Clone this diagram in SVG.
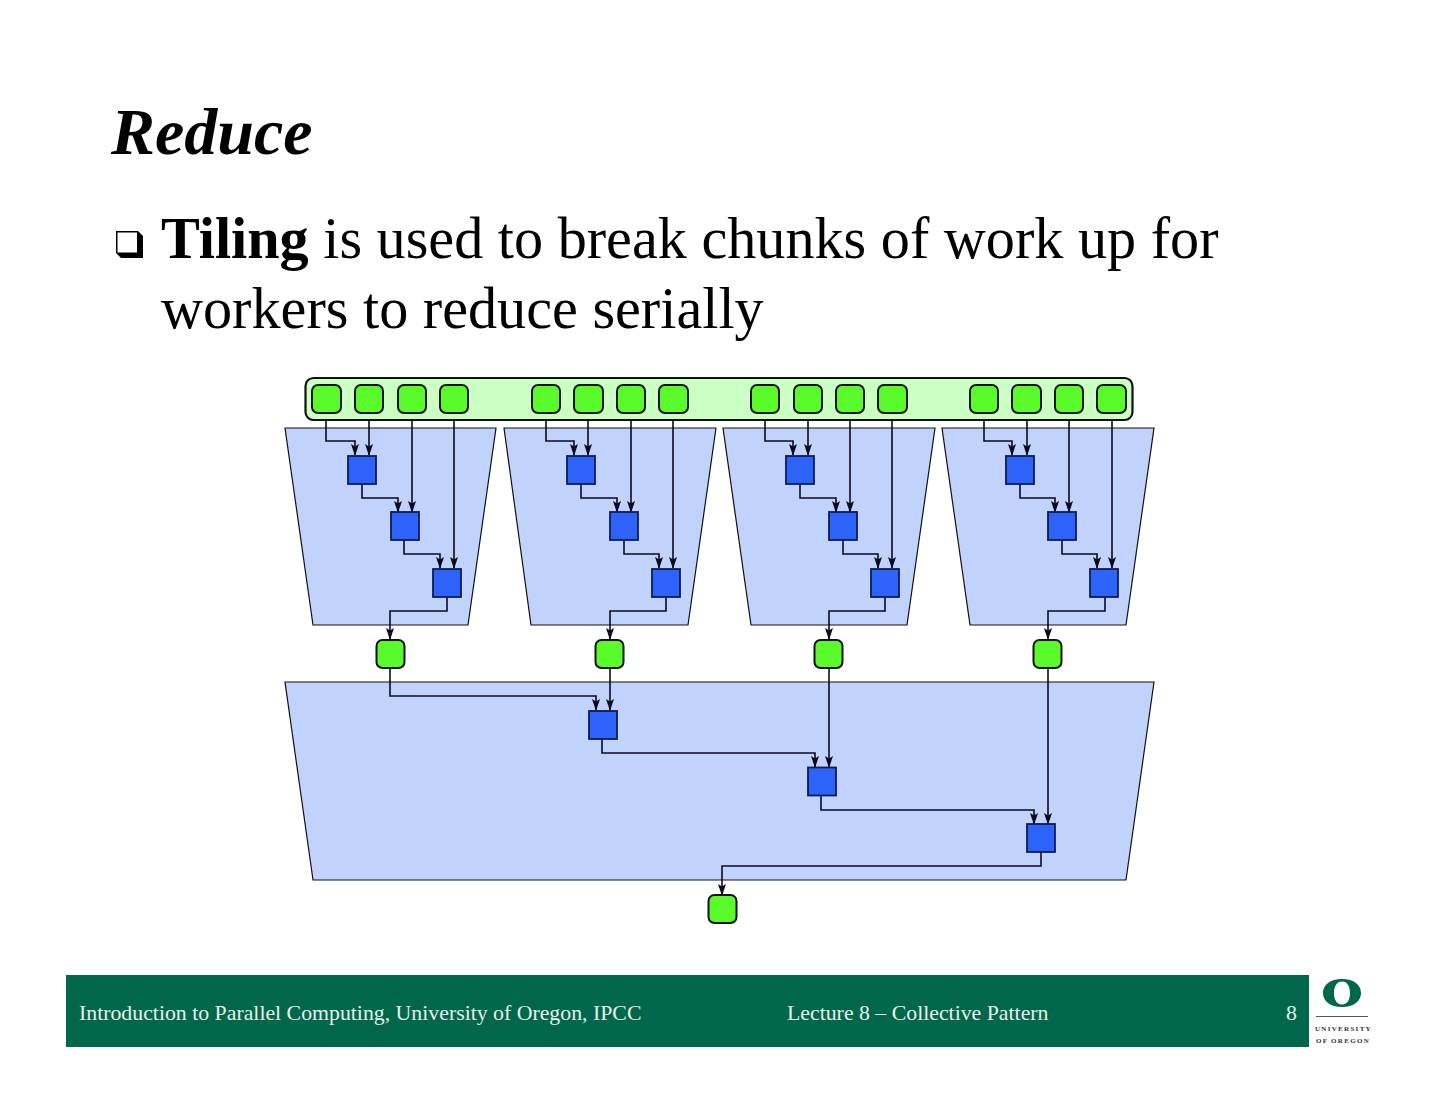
<svg xmlns="http://www.w3.org/2000/svg" width="1440" height="1113" viewBox="0 0 1440 1113">
<style>
text{font-family:"Liberation Serif","Times New Roman",serif;fill:#000}
.title{font-size:66px;font-weight:bold;font-style:italic}
.body{font-size:58.2px}
.foot{font-size:21.8px;fill:#e8f0ec}
.logo{font-size:7px;letter-spacing:1.3px;fill:#333;font-weight:bold}
.tile{fill:#c1d3fc;stroke:#111;stroke-width:1.2}
.band{fill:#ccffc4;stroke:#111;stroke-width:2.2}
.g{fill:#5afb2a;stroke:#111;stroke-width:2}
.b{fill:#2e63fb;stroke:#0d1c50;stroke-width:1.8}
.c{fill:none;stroke:#0a0a1e;stroke-width:1.6;marker-end:url(#arrow)}
</style>
<defs>
<marker id="arrow" markerUnits="userSpaceOnUse" markerWidth="14" markerHeight="14" refX="11" refY="4" orient="auto" overflow="visible"><path d="M0,0L12,4L0,8L2.500,4Z" fill="#0a0a1e"/></marker>
</defs>
<rect width="1440" height="1113" fill="#fff"/>
<text class="title" x="111" y="154">Reduce</text>
<g id="bullet"><path d="M116,231H138L143,236V258H121L116,253Z" fill="#000"/><rect x="117.500" y="232.500" width="19.500" height="20" fill="#fff"/></g>
<text class="body" x="161" y="258"><tspan font-weight="bold">Tiling</tspan> is used to break chunks of work up for</text>
<text class="body" x="161" y="328">workers to reduce serially</text>
<g id="tile1"><path class="tile" d="M285,428H496L468,625H313Z"/></g>
<g id="tile2"><path class="tile" d="M504,428H716L688,625H531Z"/></g>
<g id="tile3"><path class="tile" d="M723,428H935L907,625H751Z"/></g>
<g id="tile4"><path class="tile" d="M942,428H1154L1126,625H970Z"/></g>
<g id="tile5"><path class="tile" d="M285,682H1154L1126,880H313Z"/></g>
<g id="input-band"><rect class="band" x="305.500" y="378" width="827" height="42" rx="8"/></g>
<g id="connectors">
<path class="c" d="M326,420V441H355V455"/><path class="c" d="M369,420V455"/><path class="c" d="M412,420V512"/><path class="c" d="M454,420V568"/>
<path class="c" d="M362,484V498H398V512"/><path class="c" d="M404,540V554H440V568"/><path class="c" d="M447,597V611H390V639"/>
<path class="c" d="M546,420V441H574V455"/><path class="c" d="M588,420V455"/><path class="c" d="M631,420V512"/><path class="c" d="M673,420V568"/>
<path class="c" d="M581,484V498H617V512"/><path class="c" d="M624,540V554H659V568"/><path class="c" d="M666,597V611H610V639"/>
<path class="c" d="M765,420V441H793V455"/><path class="c" d="M808,420V455"/><path class="c" d="M850,420V512"/><path class="c" d="M892,420V568"/>
<path class="c" d="M800,484V498H836V512"/><path class="c" d="M843,540V554H878V568"/><path class="c" d="M885,597V611H829V639"/>
<path class="c" d="M984,420V441H1012V455"/><path class="c" d="M1027,420V455"/><path class="c" d="M1069,420V512"/><path class="c" d="M1112,420V568"/>
<path class="c" d="M1020,484V498H1055V512"/><path class="c" d="M1062,540V554H1097V568"/><path class="c" d="M1105,597V611H1048V639"/>
<path class="c" d="M390,668V696H596V710"/><path class="c" d="M610,668V710"/><path class="c" d="M602,739V753H815V767"/><path class="c" d="M829,668V767"/><path class="c" d="M821,796V810H1034V824"/><path class="c" d="M1048,668V824"/><path class="c" d="M1041,852V866H722V895"/>
</g>
<g id="in1"><rect class="g" x="312" y="385" width="29" height="28" rx="6"/></g>
<g id="in2"><rect class="g" x="355" y="385" width="28" height="28" rx="6"/></g>
<g id="in3"><rect class="g" x="398" y="385" width="28" height="28" rx="6"/></g>
<g id="in4"><rect class="g" x="440" y="385" width="28" height="28" rx="6"/></g>
<g id="in5"><rect class="g" x="532" y="385" width="28" height="28" rx="6"/></g>
<g id="in6"><rect class="g" x="574" y="385" width="29" height="28" rx="6"/></g>
<g id="in7"><rect class="g" x="617" y="385" width="28" height="28" rx="6"/></g>
<g id="in8"><rect class="g" x="659" y="385" width="29" height="28" rx="6"/></g>
<g id="in9"><rect class="g" x="751" y="385" width="28" height="28" rx="6"/></g>
<g id="in10"><rect class="g" x="794" y="385" width="28" height="28" rx="6"/></g>
<g id="in11"><rect class="g" x="836" y="385" width="28" height="28" rx="6"/></g>
<g id="in12"><rect class="g" x="878" y="385" width="29" height="28" rx="6"/></g>
<g id="in13"><rect class="g" x="970" y="385" width="28" height="28" rx="6"/></g>
<g id="in14"><rect class="g" x="1012" y="385" width="29" height="28" rx="6"/></g>
<g id="in15"><rect class="g" x="1055" y="385" width="28" height="28" rx="6"/></g>
<g id="in16"><rect class="g" x="1097" y="385" width="29" height="28" rx="6"/></g>
<g id="b1"><rect class="b" x="348" y="456" width="28" height="28"/></g>
<g id="b2"><rect class="b" x="391" y="512" width="28" height="28"/></g>
<g id="b3"><rect class="b" x="433" y="569" width="28" height="28"/></g>
<g id="b4"><rect class="b" x="567" y="456" width="28" height="28"/></g>
<g id="b5"><rect class="b" x="610" y="512" width="28" height="28"/></g>
<g id="b6"><rect class="b" x="652" y="569" width="28" height="28"/></g>
<g id="b7"><rect class="b" x="786" y="456" width="28" height="28"/></g>
<g id="b8"><rect class="b" x="829" y="512" width="28" height="28"/></g>
<g id="b9"><rect class="b" x="871" y="569" width="28" height="28"/></g>
<g id="b10"><rect class="b" x="1006" y="456" width="28" height="28"/></g>
<g id="b11"><rect class="b" x="1048" y="512" width="28" height="28"/></g>
<g id="b12"><rect class="b" x="1090" y="569" width="28" height="28"/></g>
<g id="out1"><rect class="g" x="376.500" y="640" width="28" height="28" rx="6"/></g>
<g id="out2"><rect class="g" x="595.500" y="640" width="28" height="28" rx="6"/></g>
<g id="out3"><rect class="g" x="814.500" y="640" width="28" height="28" rx="6"/></g>
<g id="out4"><rect class="g" x="1033.500" y="640" width="28" height="28" rx="6"/></g>
<g id="b13"><rect class="b" x="589" y="711" width="28" height="28"/></g>
<g id="b14"><rect class="b" x="808" y="767.500" width="28" height="28"/></g>
<g id="b15"><rect class="b" x="1027" y="824" width="28" height="28"/></g>
<g id="result"><rect class="g" x="708.500" y="895" width="28" height="28" rx="6"/></g>
<g id="footer"><rect x="66" y="975" width="1243" height="72" fill="#00674a"/>
<text class="foot" x="79" y="1020">Introduction to Parallel Computing, University of Oregon, IPCC</text>
<text class="foot" x="787" y="1020">Lecture 8 – Collective Pattern</text>
<text class="foot" x="1286" y="1020">8</text></g>
<g id="logo"><path fill-rule="evenodd" d="M1342,979C1354,979 1361,985 1361,993C1361,1001 1354,1007 1342,1007C1330,1007 1323,1001 1323,993C1323,985 1330,979 1342,979ZM1342,981.500C1337,981.500 1334,986 1334,993C1334,1000 1337,1004.500 1342,1004.500C1347,1004.500 1350,1000 1350,993C1350,986 1347,981.500 1342,981.500Z" fill="#00674a"/>
<rect x="1316" y="1016" width="52" height="1" fill="#555"/>
<text class="logo" x="1315" y="1031">UNIVERSITY</text><text class="logo" x="1316" y="1043">OF OREGON</text></g>
</svg>
